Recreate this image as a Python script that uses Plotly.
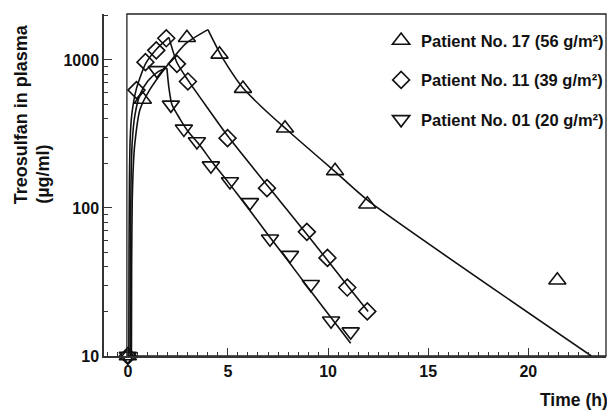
import plotly.graph_objects as go

# ---- data ----
p17_t = [0, 0.75, 2.95, 4.58, 5.75, 7.85, 10.35, 11.96, 21.45]
p17_c = [10, 540, 1410, 1090, 640, 345, 178, 106, 32.5]
p11_t = [0, 0.43, 0.88, 1.42, 1.92, 2.45, 3.0, 4.98, 6.95, 8.94, 9.97, 10.96, 11.96]
p11_c = [10, 625, 965, 1160, 1400, 940, 715, 296, 136, 69, 46, 29, 20]
p01_t = [0, 1.45, 2.15, 2.8, 3.45, 4.15, 5.1, 6.1, 7.1, 8.1, 9.14, 10.15, 11.13]
p01_c = [10, 850, 497, 342, 281, 193, 151, 109, 62, 48, 30.5, 17.3, 14.6]

# fitted curves (rise during infusion, decline afterwards)
fit17_rise_t = [0.18, 0.19, 0.22, 0.28, 0.35, 0.6, 1.09, 1.92, 2.92, 4.0]
fit17_rise_c = [10, 40, 110, 200, 273, 459, 627, 900, 1297, 1600]
fit17_dec_t = [4.0, 4.5, 5.0, 5.75, 6.7, 7.8, 8.9, 10.35, 12.0, 23.15]
fit17_dec_c = [1600, 1175, 900, 645, 479, 351, 260, 176, 112, 10]

fit11_rise_t = [0.05, 0.06, 0.08, 0.12, 0.2, 0.43, 0.9, 1.45, 2.05]
fit11_rise_c = [10, 50, 150, 300, 430, 640, 950, 1190, 1420]
fit11_dec_t = [2.05, 2.45, 3.0, 4.0, 5.0, 7.0, 9.0, 11.0, 12.0]
fit11_dec_c = [1420, 960, 730, 470, 305, 140, 65, 29.5, 20]

fit01_rise_t = [0.12, 0.13, 0.16, 0.22, 0.35, 0.6, 1.0, 1.5, 1.95]
fit01_rise_c = [10, 50, 150, 280, 420, 580, 720, 830, 880]
fit01_dec_t = [1.95, 2.05, 2.2, 2.6, 3.0, 3.6, 4.2, 5.0, 6.0, 7.0, 8.0, 9.0, 10.0, 11.13]
fit01_dec_c = [880, 650, 500, 400, 330, 265, 205, 150, 100, 66, 44, 29, 19.3, 12.2]

names = ["Patient No. 17 (56 g/m²)", "Patient No. 11 (39 g/m²)", "Patient No. 01 (20 g/m²)"]
x_ticks = [0, 5, 10, 15, 20]
y_ticks = [10, 100, 1000]
y_minor = [20, 30, 40, 50, 60, 70, 80, 90, 200, 300, 400, 500, 600, 700, 800, 900, 2000]

FONT = "Liberation Sans, Arial, sans-serif"
BLK = "#111111"

fig = go.Figure()

for tt, cc in [(fit17_rise_t, fit17_rise_c), (fit17_dec_t, fit17_dec_c),
               (fit11_rise_t, fit11_rise_c), (fit11_dec_t, fit11_dec_c),
               (fit01_rise_t, fit01_rise_c), (fit01_dec_t, fit01_dec_c)]:
    fig.add_trace(go.Scatter(x=tt, y=cc, mode="lines",
                             line=dict(color=BLK, width=1.6, shape="spline", smoothing=0.6),
                             showlegend=False, hoverinfo="skip"))

marker_specs = [
    (p17_t, p17_c, "triangle-up-open", 15, names[0], "g1"),
    (p11_t, p11_c, "diamond-open", 13, names[1], "g2"),
    (p01_t, p01_c, "triangle-down-open", 15, names[2], "g3"),
]
for tt, cc, sym, sz, nm, grp in marker_specs:
    fig.add_trace(go.Scatter(x=tt, y=cc, mode="markers", name=nm, legendgroup=grp,
                             marker=dict(symbol=sym, size=sz, color=BLK,
                                         line=dict(color=BLK, width=1.6)),
                             cliponaxis=False))

# page body has an 8px margin, so the figure is offset; size/margins compensate
fig.update_layout(
    width=607, height=403,
    margin=dict(l=96, r=7, t=6, b=55),
    paper_bgcolor="white", plot_bgcolor="white",
    font=dict(family=FONT, color=BLK, size=16, weight="bold"),
    showlegend=True,
    legend=dict(x=0.552, y=0.973, xanchor="left", yanchor="top",
                bgcolor="rgba(0,0,0,0)", traceorder="grouped",
                tracegroupgap=15, font=dict(size=16.5, family=FONT, weight="bold")),
    xaxis=dict(range=[-1.19, 23.88], showline=True, linecolor="#333333", linewidth=1.5,
               showgrid=False, zeroline=False, tickvals=x_ticks, ticks="inside",
               ticklen=8, tickwidth=1.2, tickcolor="#333333",
               tickfont=dict(size=16, weight="bold"),
               minor=dict(dtick=0.5, tick0=0, ticks="inside", ticklen=4,
                          tickwidth=1, tickcolor="#333333", showgrid=False)),
    yaxis=dict(type="log", range=[1, 3.31], showline=True, linecolor="#333333", linewidth=1.5,
               showgrid=False, zeroline=False, tickvals=y_ticks, ticks="inside",
               ticklen=8, tickwidth=1.2, tickcolor="#333333",
               tickfont=dict(size=16, weight="bold"),
               minor=dict(tickvals=y_minor, ticks="inside", ticklen=4,
                          tickwidth=1, tickcolor="#333333", showgrid=False)),
    shapes=[dict(type="rect", xref="paper", yref="paper", x0=0.0456, x1=1.0, y0=0, y1=1,
                 line=dict(color="#222222", width=1.3), layer="below")],
    annotations=[
        dict(text="Treosulfan in plasma", xref="paper", yref="paper",
             x=-83 / 504, y=(356 - 206) / 342, xanchor="center", yanchor="bottom",
             textangle=-90, showarrow=False, font=dict(size=18, weight="bold")),
        dict(text="(µg/ml)", xref="paper", yref="paper",
             x=-62 / 504, y=(356 - 206) / 342, xanchor="center", yanchor="bottom",
             textangle=-90, showarrow=False, font=dict(size=18, weight="bold")),
        dict(text="Time (h)", xref="paper", yref="paper",
             x=1.008, y=-44 / 342, xanchor="right", yanchor="middle",
             showarrow=False, font=dict(size=17.5, weight="bold")),
    ],
)

fig.write_html("out.html")
